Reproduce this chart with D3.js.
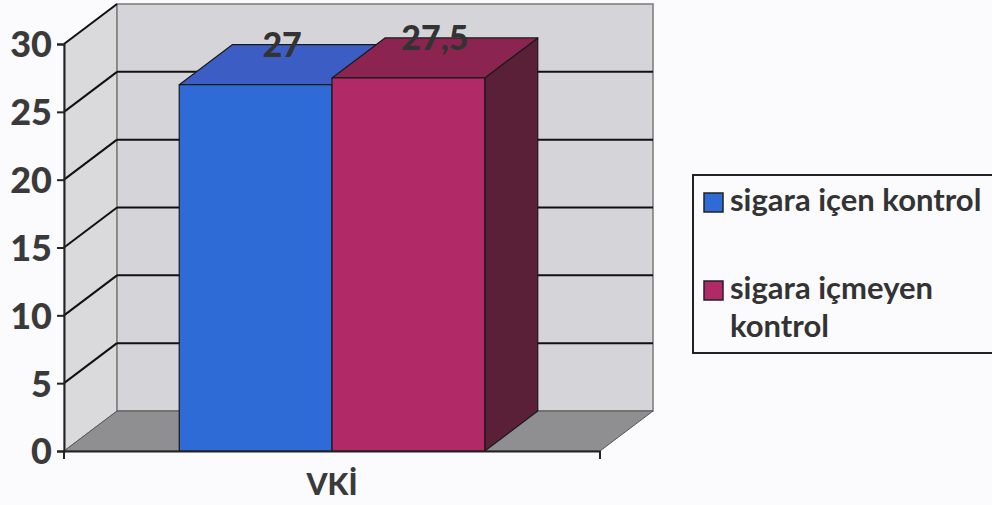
<!DOCTYPE html>
<html>
<head>
<meta charset="utf-8">
<script src="https://cdn.jsdelivr.net/npm/d3@7"></script>
<style>
  body { margin: 0; background: #fbfbfd; }
  svg { display: block; font-family: Lato, "Open Sans", sans-serif; font-weight: bold; }
</style>
</head>
<body>
<div id="chart"></div>
<script>
// data
var categories = ["VKİ"];
var seriesNames = ["sigara içen kontrol", "sigara içmeyen kontrol"];
var seriesValues = [27, 27.5];
var valueLabels = ["27", "27,5"];
var yTicks = [0, 5, 10, 15, 20, 25, 30];

var W = 992, H = 505;
var depthX = 53, depthY = -40;
var colors = [
  { front: "#2e6bd6", top: "#3c5ec4", side: "#23459a" },
  { front: "#b12966", top: "#8b2451", side: "#5a2038" }
];

var svg = d3.select("#chart").append("svg")
  .attr("width", W).attr("height", H);

var x0 = d3.scaleBand().domain(categories).range([64, 600])
  .paddingInner(0.43).paddingOuter(0.215);
var x1 = d3.scaleBand().domain(seriesNames).range([0, x0.bandwidth()]);
var y = d3.scaleLinear().domain([0, 30]).range([451, 44]);

var left = x0.range()[0], right = x0.range()[1];
var yTop = y(30), yBot = y(0);

function pts(a) { return a.map(function(p) { return p.join(","); }).join(" "); }

// walls
svg.append("polygon")
  .attr("points", pts([[left, yBot], [left, yTop], [left + depthX, yTop + depthY], [left + depthX, yBot + depthY]]))
  .attr("fill", "#dadadd").attr("stroke", "#7a7a7a").attr("stroke-width", 1);
svg.append("polygon")
  .attr("points", pts([[left + depthX, yTop + depthY], [right + depthX, yTop + depthY], [right + depthX, yBot + depthY], [left + depthX, yBot + depthY]]))
  .attr("fill", "#d5d5d9").attr("stroke", "#7a7a7a").attr("stroke-width", 1.5);
svg.append("polygon")
  .attr("points", pts([[left, yBot], [right, yBot], [right + depthX, yBot + depthY], [left + depthX, yBot + depthY]]))
  .attr("fill", "#8f8f91").attr("stroke", "#555").attr("stroke-width", 1);

// gridlines
var grid = svg.append("g").attr("stroke", "#111").attr("stroke-width", 2);
yTicks.filter(function(t) { return t > 0 && t < 30; }).forEach(function(t) {
  grid.append("line")
    .attr("x1", left + depthX).attr("x2", right + depthX)
    .attr("y1", y(t) + depthY).attr("y2", y(t) + depthY);
});
yTicks.filter(function(t) { return t > 0; }).forEach(function(t) {
  grid.append("line")
    .attr("x1", left).attr("x2", left + depthX)
    .attr("y1", y(t)).attr("y2", y(t) + depthY);
});

// bars
var bars = svg.append("g");
seriesNames.forEach(function(s, i) {
  var bx = x0(categories[0]) + x1(s), bw = x1.bandwidth();
  var by = y(seriesValues[i]);
  var g = bars.append("g").attr("stroke", "#1a1a1a").attr("stroke-width", 1.2).attr("stroke-linejoin", "round");
  g.append("polygon")
    .attr("points", pts([[bx + bw, yBot], [bx + bw, by], [bx + bw + depthX, by + depthY], [bx + bw + depthX, yBot + depthY]]))
    .attr("fill", colors[i].side);
  g.append("polygon")
    .attr("points", pts([[bx, by], [bx + depthX, by + depthY], [bx + bw + depthX, by + depthY], [bx + bw, by]]))
    .attr("fill", colors[i].top);
  g.append("rect")
    .attr("x", bx).attr("y", by).attr("width", bw).attr("height", yBot - by)
    .attr("fill", colors[i].front);
});

// value labels
seriesNames.forEach(function(s, i) {
  var cx = x0(categories[0]) + x1(s) + x1.bandwidth() / 2 + depthX / 2;
  svg.append("text")
    .attr("x", cx).attr("y", y(seriesValues[i]) + depthY + 12)
    .attr("text-anchor", "middle")
    .attr("font-size", 34).attr("font-weight", 900).attr("fill", "#333")
    .text(valueLabels[i]);
});

// axes
var yAxis = svg.append("g").attr("transform", "translate(" + left + ",0)")
  .call(d3.axisLeft(y).tickValues(yTicks).tickSize(7).tickPadding(5));
yAxis.select(".domain").attr("stroke", "#222").attr("stroke-width", 2);
yAxis.selectAll(".tick line").attr("stroke", "#222").attr("stroke-width", 2);
yAxis.selectAll(".tick text").attr("font-size", 36).attr("fill", "#3a3a3a")
  .attr("font-family", "Lato, sans-serif").attr("font-weight", 900).attr("dy", "0.36em");

var xAxis = svg.append("g").attr("transform", "translate(0," + yBot + ")")
  .call(d3.axisBottom(x0).tickSize(0).tickPadding(23));
xAxis.select(".domain").attr("stroke", "#222").attr("stroke-width", 2);
xAxis.selectAll(".tick text").attr("font-size", 30).attr("fill", "#3a3a3a")
  .attr("font-family", "Lato, sans-serif").attr("font-weight", 900);
[left, right].forEach(function(xx) {
  svg.append("line").attr("x1", xx).attr("x2", xx).attr("y1", yBot).attr("y2", yBot + 8)
    .attr("stroke", "#222").attr("stroke-width", 2);
});

// legend
var lg = svg.append("g").attr("transform", "translate(693,175)");
lg.append("rect").attr("width", 320).attr("height", 178)
  .attr("fill", "#fbfbfd").attr("stroke", "#222").attr("stroke-width", 2);
var legendLines = [["sigara içen kontrol"], ["sigara içmeyen", "kontrol"]];
legendLines.forEach(function(lines, i) {
  var row = lg.append("g").attr("transform", "translate(0," + (i * 88) + ")");
  row.append("rect").attr("x", 11).attr("y", 18).attr("width", 19).attr("height", 19)
    .attr("fill", colors[i].front).attr("stroke", "#222").attr("stroke-width", 1.5);
  lines.forEach(function(t, j) {
    row.append("text").attr("x", 37).attr("y", 36 + j * 38)
      .attr("font-size", 31).attr("fill", "#333").text(t);
  });
});
</script>
</body>
</html>
